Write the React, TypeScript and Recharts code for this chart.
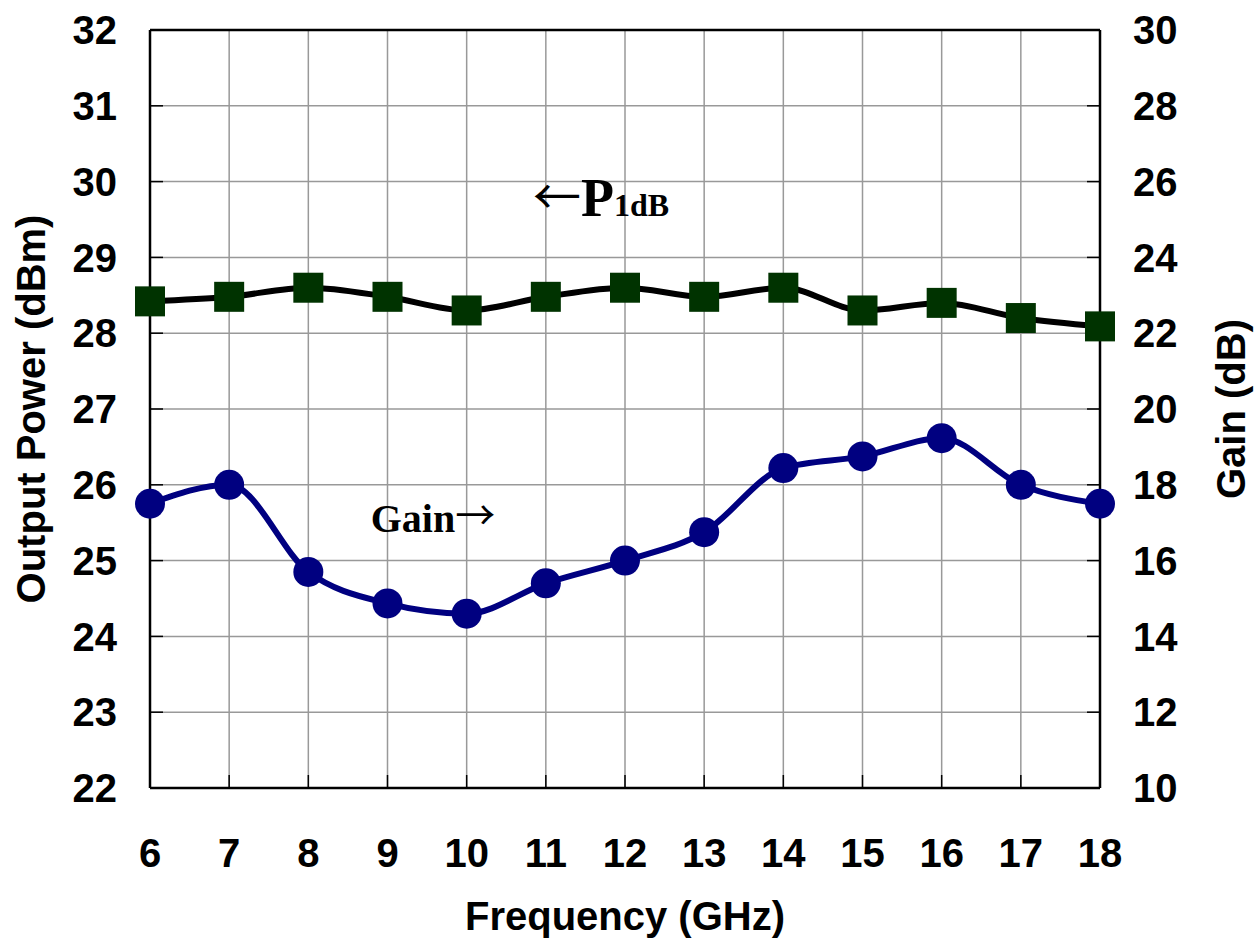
import React from "react";
import {
  CartesianGrid,
  Label,
  Line,
  LineChart,
  ReferenceDot,
  ReferenceLine,
  XAxis,
  YAxis,
} from "recharts";

const frequency = [6, 7, 8, 9, 10, 11, 12, 13, 14, 15, 16, 17, 18];
const p1dB = [28.42, 28.48, 28.6, 28.48, 28.3, 28.48, 28.6, 28.48, 28.6, 28.3, 28.4, 28.2, 28.09];
const gain = [17.5, 18.0, 15.7, 14.87, 14.6, 15.4, 16.0, 16.75, 18.44, 18.75, 19.23, 18.0, 17.5];
const powerTicks = [22, 23, 24, 25, 26, 27, 28, 29, 30, 31, 32];
const gainTicks = [10, 12, 14, 16, 18, 20, 22, 24, 26, 28, 30];

const data = frequency.map((f, i) => ({ freq: f, p1dB: p1dB[i], gain: gain[i] }));

const sans = "'Liberation Sans', Arial, sans-serif";
const serif = "'Liberation Serif', 'Times New Roman', serif";
const arrowFont = "'Noto Sans CJK SC', 'DejaVu Sans', sans-serif";
const tickStyle = { fill: "#000", fontSize: 40, fontWeight: 700, fontFamily: sans };

const SquareDot = (props: any) => {
  const { cx, cy, index } = props;
  if (cx == null || cy == null) return null;
  return <rect key={`sq-${index}`} x={cx - 15} y={cy - 15} width={30} height={30} fill="#003300" />;
};

const VerticalTitle = ({ viewBox, text, dx }: any) => {
  const x = viewBox.x + dx;
  const y = viewBox.y + viewBox.height / 2;
  return (
    <text
      x={x}
      y={y}
      transform={`rotate(-90, ${x}, ${y})`}
      textAnchor="middle"
      dominantBaseline="central"
      fontFamily={sans}
      fontWeight={700}
      fontSize={40}
      fill="#000"
    >
      {text}
    </text>
  );
};

export default function App() {
  return (
    <div style={{ position: "absolute", left: 0, top: 0, background: "#fff" }}>
      <LineChart width={1260} height={945} data={data} margin={{ top: 30, right: 0, bottom: 0, left: 0 }}>
        <CartesianGrid yAxisId="left" stroke="#999" strokeWidth={1.5} />
        <XAxis
          dataKey="freq"
          type="number"
          domain={[6, 18]}
          ticks={frequency}
          interval={0}
          height={157}
          axisLine={{ stroke: "#000", strokeWidth: 2.5 }}
          tickLine={{ stroke: "#000", strokeWidth: 1.5 }}
          tickSize={-13}
          tickMargin={64}
          tick={tickStyle}
        >
          <Label
            content={({ viewBox }: any) => (
              <text
                x={viewBox.x + viewBox.width / 2}
                y={viewBox.y + 142}
                textAnchor="middle"
                fontFamily={sans}
                fontWeight={700}
                fontSize={40}
                fill="#000"
              >
                Frequency (GHz)
              </text>
            )}
          />
        </XAxis>
        <YAxis
          yAxisId="left"
          domain={[22, 32]}
          ticks={powerTicks}
          interval={0}
          width={150}
          axisLine={{ stroke: "#000", strokeWidth: 2.5 }}
          tickLine={{ stroke: "#000", strokeWidth: 1.5 }}
          tickSize={-13}
          tickMargin={46}
          tick={tickStyle}
        >
          <Label content={(p: any) => <VerticalTitle {...p} text="Output Power (dBm)" dx={31} />} />
        </YAxis>
        <YAxis
          yAxisId="right"
          orientation="right"
          domain={[10, 30]}
          ticks={gainTicks}
          interval={0}
          width={160}
          axisLine={{ stroke: "#000", strokeWidth: 2.5 }}
          tickLine={{ stroke: "#000", strokeWidth: 1.5 }}
          tickSize={-13}
          tickMargin={46}
          tick={tickStyle}
        >
          <Label content={(p: any) => <VerticalTitle {...p} text="Gain (dB)" dx={131} />} />
        </YAxis>
        <ReferenceLine yAxisId="left" y={32} stroke="#000" strokeWidth={2.5} />
        <Line
          yAxisId="left"
          dataKey="p1dB"
          type="monotone"
          stroke="#000"
          strokeWidth={6}
          dot={SquareDot}
          activeDot={false}
          isAnimationActive={false}
        />
        <Line
          yAxisId="right"
          dataKey="gain"
          type="monotone"
          stroke="#000080"
          strokeWidth={6}
          dot={{ r: 15, fill: "#000080", stroke: "none" }}
          activeDot={false}
          isAnimationActive={false}
        />
        <ReferenceDot
          yAxisId="left"
          x={10.85}
          y={29.72}
          r={1}
          fill="none"
          stroke="none"
          label={({ viewBox }: any) => (
            <text x={viewBox.x} y={viewBox.y + 14} fontFamily={serif} fontWeight={700} fill="#000">
              <tspan fontSize={48} fontWeight={400} fontFamily={arrowFont} dy={-2}>←</tspan>
              <tspan fontSize={54} dy={2}>P</tspan>
              <tspan fontSize={32}>1dB</tspan>
            </text>
          )}
        />
        <ReferenceDot
          yAxisId="left"
          x={8.8}
          y={25.55}
          r={1}
          fill="none"
          stroke="none"
          label={({ viewBox }: any) => (
            <text x={viewBox.x} y={viewBox.y + 14} fontFamily={serif} fontWeight={700} fill="#000">
              <tspan fontSize={40}>Gain</tspan>
              <tspan fontSize={40} fontWeight={400} fontFamily={arrowFont} dy={-2}>→</tspan>
            </text>
          )}
        />
      </LineChart>
    </div>
  );
}
